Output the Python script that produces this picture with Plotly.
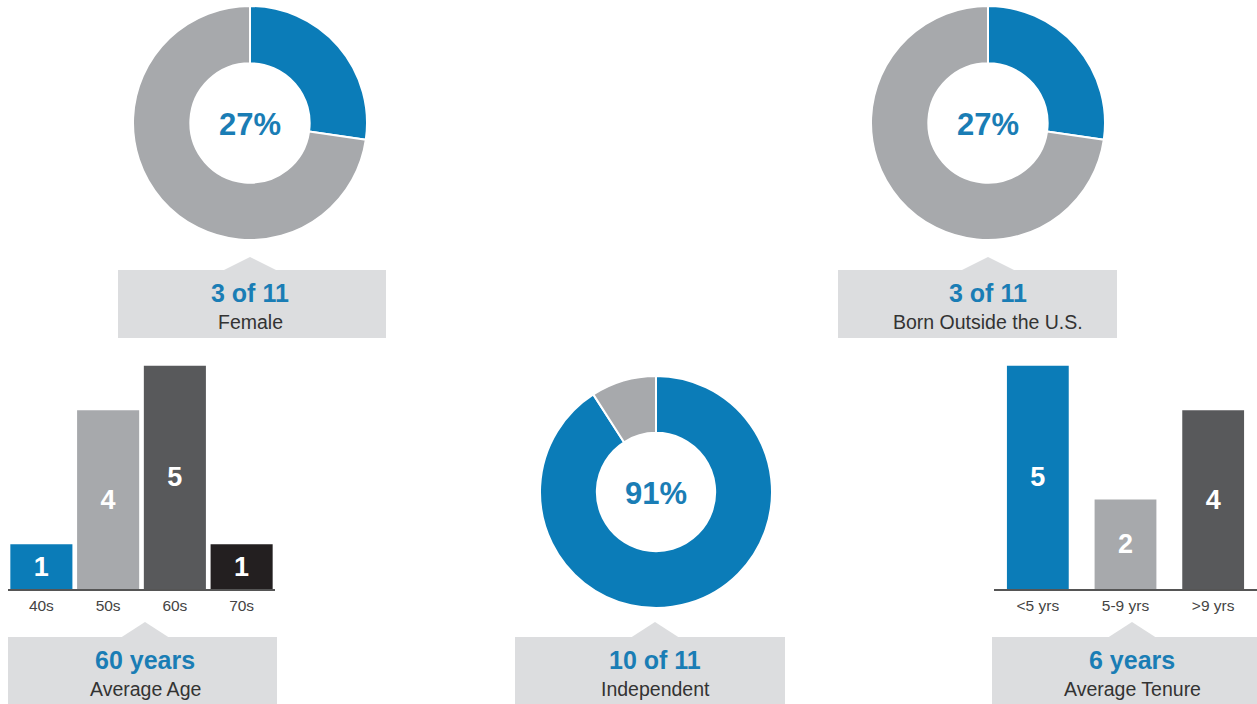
import plotly.graph_objects as go

W, H = 1257, 704

# ---------------- data ----------------
female_counts = [3, 8]            # female, male
born_outside_counts = [3, 8]      # born outside US, born in US
independent_counts = [10, 1]      # independent, not independent

age_labels = ["40s", "50s", "60s", "70s"]
age_counts = [1, 4, 5, 1]

tenure_labels = ["<5 yrs", "5-9 yrs", ">9 yrs"]
tenure_counts = [5, 2, 4]

callout_titles = ["Female", "Born Outside the U.S.", "Average Age", "Independent", "Average Tenure"]
average_age = "60 years"
average_tenure = "6 years"

# ---------------- style ----------------
BLUE = "#0b7cb8"
LGRAY = "#a7a9ac"
DGRAY = "#58595b"
BLACK = "#231f20"
BOX = "#dcdddf"
TXT_BLUE = "#1a7db5"
TXT_DARK = "#333333"
FONT = "Liberation Sans, Arial, sans-serif"


def fx(x):
    return x / W


def fy(y):
    return 1 - y / H


def pie_domain(cx, cy, r):
    return dict(x=[fx(cx - r), fx(cx + r)], y=[fy(cy + r), fy(cy - r)])


fig = go.Figure()

donuts = [
    (female_counts, 250, 123, 117),
    (born_outside_counts, 988, 123, 117),
    (independent_counts, 656, 492, 116),
]
annotations = []
for vals, cx, cy, r in donuts:
    fig.add_trace(go.Pie(
        values=vals, labels=["a", "b"], sort=False, direction="clockwise", rotation=0,
        hole=0.51, marker=dict(colors=[BLUE, LGRAY], line=dict(color="white", width=2)),
        textinfo="none", hoverinfo="skip", showlegend=False,
        domain=pie_domain(cx, cy, r),
    ))
    pct = round(vals[0] / sum(vals) * 100)
    annotations.append(dict(
        x=fx(cx), y=fy(cy + 1), xref="paper", yref="paper", showarrow=False,
        xanchor="center", yanchor="middle",
        text=f"<b>{pct}%</b>", font=dict(family=FONT, size=31, color=TXT_BLUE),
    ))

# ---------------- bars ----------------
bar_y0, bar_y1 = 589, 589 - 5 * 44.7
fig.add_trace(go.Bar(
    x=age_labels, y=age_counts, xaxis="x", yaxis="y",
    marker=dict(color=[BLUE, LGRAY, DGRAY, BLACK], line=dict(width=0)),
    texttemplate="<b>%{y}</b>", textposition="inside", insidetextanchor="middle",
    textangle=0, constraintext="none",
    textfont=dict(family=FONT, size=27, color="white"),
    hoverinfo="skip", showlegend=False,
))
fig.add_trace(go.Bar(
    x=tenure_labels, y=tenure_counts, xaxis="x2", yaxis="y2", width=0.705,
    marker=dict(color=[BLUE, LGRAY, DGRAY], line=dict(width=0)),
    texttemplate="<b>%{y}</b>", textposition="inside", insidetextanchor="middle",
    textangle=0, constraintext="none",
    textfont=dict(family=FONT, size=27, color="white"),
    hoverinfo="skip", showlegend=False,
))

xcommon = dict(type="category", showline=True, linecolor="#555555", linewidth=1.5,
               ticks="", showgrid=False, zeroline=False, fixedrange=True,
               tickfont=dict(family=FONT, size=15.5, color="#444444"),
               ticklabelstandoff=2)
ycommon = dict(range=[0, 5], showgrid=False, zeroline=False, showticklabels=False,
               showline=False, fixedrange=True, domain=[fy(bar_y0), fy(bar_y1)])

# ---------------- callout boxes ----------------
boxes = [
    # x0, x1, y0, y1, apex_x, apex_y, half_width, title_line, subtitle
    (118, 386, 270, 338, 250, 257, 27,
     f"{female_counts[0]} of {sum(female_counts)}", callout_titles[0]),
    (838, 1117, 270, 338, 988, 257, 27,
     f"{born_outside_counts[0]} of {sum(born_outside_counts)}", callout_titles[1]),
    (8, 277, 637, 704, 145, 622, 24, average_age, callout_titles[2]),
    (515, 785, 637, 704, 655, 622, 24,
     f"{independent_counts[0]} of {sum(independent_counts)}", callout_titles[3]),
    (992, 1257, 637, 704, 1132, 622, 24, average_tenure, callout_titles[4]),
]
shapes = []
for x0, x1, y0, y1, ax, ay, hw, t1, t2 in boxes:
    shapes.append(dict(type="rect", xref="paper", yref="paper",
                       x0=fx(x0), x1=fx(x1), y0=fy(y1), y1=fy(y0),
                       fillcolor=BOX, line=dict(width=0), layer="below"))
    path = f"M {fx(ax - hw)} {fy(y0 + 0.5)} L {fx(ax)} {fy(ay)} L {fx(ax + hw)} {fy(y0 + 0.5)} Z"
    shapes.append(dict(type="path", xref="paper", yref="paper", path=path,
                       fillcolor=BOX, line=dict(width=0), layer="below"))
    annotations.append(dict(x=fx(ax), y=fy(y0 + 23), xref="paper", yref="paper",
                            xanchor="center", yanchor="middle",
                            showarrow=False, text=f"<b>{t1}</b>",
                            font=dict(family=FONT, size=25, color=TXT_BLUE)))
    annotations.append(dict(x=fx(ax), y=fy(y0 + 52), xref="paper", yref="paper",
                            xanchor="center", yanchor="middle",
                            showarrow=False, text=t2,
                            font=dict(family=FONT, size=19.5, color=TXT_DARK)))

fig.update_layout(
    width=W, height=H, margin=dict(l=0, r=0, t=0, b=0),
    paper_bgcolor="white", plot_bgcolor="white",
    bargap=0.07,
    xaxis=dict(domain=[fx(8), fx(275)], range=[-0.5, 3.5], **xcommon),
    yaxis=dict(anchor="x", **ycommon),
    xaxis2=dict(domain=[fx(994), fx(1257)], range=[-0.5, 2.5], anchor="y2", **xcommon),
    yaxis2=dict(anchor="x2", **ycommon),
    shapes=shapes, annotations=annotations,
    font=dict(family=FONT),
)

fig.write_html("out.html", config={"displayModeBar": False},
               post_script="document.body.style.margin='0px';")
